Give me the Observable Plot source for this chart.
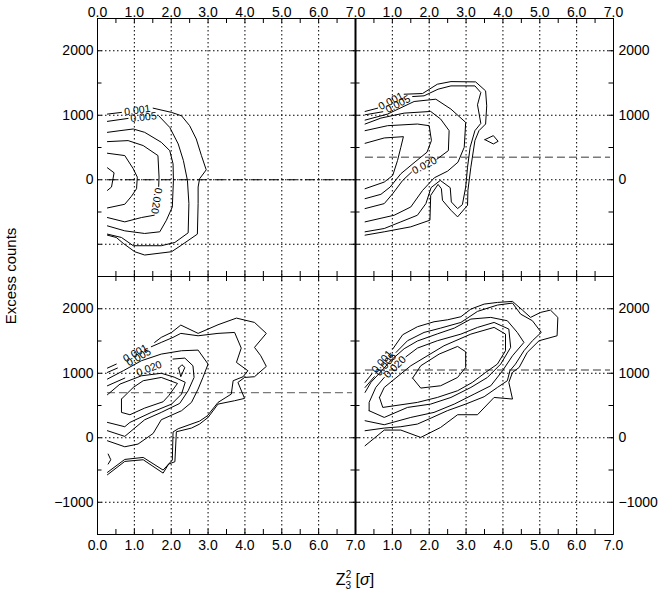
<!DOCTYPE html>
<html><head><meta charset="utf-8">
<script src="https://cdn.jsdelivr.net/npm/d3@7"></script>
<script src="https://cdn.jsdelivr.net/npm/@observablehq/plot@0.6"></script>
<style>body{margin:0;background:#fff;} #chart{width:663px;height:597px;}</style>
</head><body><div id="chart"></div>
<script>
// ---- axis values ----
const xGrid = [1, 2, 3, 4, 5, 6];
const yGrid = [-1000, 0, 1000, 2000];
const xTickVals = [0.5, 1, 1.5, 2, 2.5, 3, 3.5, 4, 4.5, 5, 5.5, 6, 6.5];
const yTickVals = [-1000, -500, 0, 500, 1000, 1500, 2000];
const xLabelsLeft = [0, 1, 2, 3, 4, 5, 6, 7];
const xLabelsRight = [1, 2, 3, 4, 5, 6, 7];
const yLabelsTop = [0, 1000, 2000];
const yLabelsBottom = [-1000, 0, 1000, 2000];

// ---- horizontal reference lines (panel, level) ----
const refLevels = {TL: 0, TR: 350, BL: 700, BR: 1050};
const refSpan = [0.27, 6.92];

// ---- contour polylines, [Z3^2 sigma, excess counts]; null = label gap ----
const tlContours = [
  [[0.27,1018],[0.65,1044],null,[1.51,1110],[2.01,1044],[2.28,992],[2.50,838],[2.68,632],[2.82,375],[2.95,154],[2.77,15],[2.73,-113],[2.73,-370],[2.71,-843],[2.28,-1013],[2.01,-1116],[1.28,-1167],[1.01,-1116],[0.70,-987],[0.51,-895],[0.27,-859]],
  [[0.27,905],[0.83,951],null,[1.66,992],[1.96,812],[2.19,555],[2.33,298],[2.44,-10],[2.48,-370],[2.46,-823],[2.10,-972],[1.73,-1023],[0.97,-1023],[0.65,-895],[0.27,-843]],
  [[0.27,735],[0.61,761],[0.97,787],[1.28,735],[1.73,581],[1.96,452],[2.05,247],[2.06,-10],[2.03,-422],[1.87,-627],[1.69,-807],[1.28,-833],[0.74,-792],[0.27,-715]],
  [[0.27,591],[0.83,607],[1.24,530],[1.64,375],[1.67,41],[1.66,-103],null,[1.54,-550],[1.19,-586],[0.74,-653],[0.27,-586]],
  [[0.27,411],[0.74,375],[0.97,170],[1.08,41],[1.06,-139],[0.92,-257],[0.74,-380],[0.27,-437]],
  [[0.27,185],[0.45,108],[0.38,-113],[0.27,-165]]
];
const trContours = [
  [[0.26,1059],[0.60,1110],null,[1.32,1326],[1.82,1337],[2.22,1481],[2.59,1522],[3.26,1517],[3.53,1378],[3.56,1146],[3.53,864],[3.35,761],[3.24,607],[3.13,195],[3.05,-164],[3.04,-396],[2.77,-576],[2.59,-473],[2.36,-319],[2.33,-139],[2.24,-72],[2.04,-242],[2.02,-627],[1.50,-730],[0.78,-807],[0.26,-859]],
  [[0.26,1007],[0.74,1054],null,[1.55,1290],[1.86,1301],[2.24,1404],[2.59,1455],[3.24,1455],[3.40,1352],[3.31,1162],[3.40,874],[3.24,761],[3.11,504],[3.04,195],[2.99,-113],[2.90,-386],[2.77,-447],[2.60,-344],[2.57,-123],[2.30,-10],[2.05,-123],[1.91,-370],[1.68,-550],[1.23,-653],[0.78,-756],[0.26,-807]],
  [[0.26,925],[0.87,1018],[1.59,1213],[2.18,1249],[2.59,1095],[2.99,889],[2.95,504],[2.78,272],[2.50,134],[2.14,31],[1.82,-165],[1.50,-422],[1.05,-550],[0.26,-653]],
  [[0.26,864],[0.69,956],[1.32,1033],[2.04,1059],[2.31,941],[2.54,761],[2.52,452],[2.21,319],null,[1.52,118],[1.28,-10],[1.01,-216],[0.78,-370],[0.26,-447]],
  [[0.26,761],[0.87,838],[1.68,864],[2.00,838],[2.06,607],[1.94,427],[1.64,288],[1.23,93],[0.94,-113],[0.69,-226],[0.26,-293]],
  [[0.26,565],[0.78,648],[1.30,668],[1.23,504],[1.14,298],[1.01,67],[0.78,-36],[0.26,-139]],
  [[3.51,622],[3.74,684],[3.87,596],[3.74,555],[3.51,622]]
];
const blContours = [
  [[0.27,1080],[0.51,1142],null,[1.55,1478],[1.73,1556],[2.01,1633],[2.26,1747],[2.73,1618],[3.00,1685],[3.27,1752],[3.77,1855],[4.26,1788],[4.58,1618],[4.26,1401],[4.43,1271],[4.58,1106],[4.26,946],[3.99,935],[3.81,858],[3.99,610],[3.72,574],[3.27,522],[3.00,315],[2.77,212],[2.55,150],[2.14,93],[2.10,-372],[1.93,-408],[1.78,-548],[1.24,-341],[0.74,-367],[0.27,-574]],
  [[0.27,1013],[0.54,1080],null,[1.46,1411],[1.73,1478],[2.05,1556],[2.26,1618],[2.73,1581],[3.27,1618],[3.72,1633],[3.90,1390],[3.77,1168],[4.08,1039],[3.95,946],[3.68,884],[3.63,677],[3.27,548],[2.98,340],[2.77,258],[2.19,140],[2.05,90],[2.03,-346],[1.78,-501],[1.24,-305],[0.74,-336],[0.27,-537]],
  [[0.27,910],[0.70,1039],[1.19,1194],[1.73,1297],[2.28,1349],[2.73,1359],[3.00,1142],[2.86,935],[2.73,755],[2.55,548],[2.28,419],[1.73,279],[1.51,67],[1.10,-98],[0.74,-140],[0.27,-47]],
  [[0.27,806],[0.74,925],null,[2.05,1220],[2.37,1235],[2.59,1116],[2.62,935],[2.46,729],[2.23,532],[1.73,393],[1.28,279],[0.74,21],[0.27,109]],
  [[0.27,667],[0.61,832],[1.19,960],[1.73,1000],[2.08,940],[2.38,860],[2.28,677],[2.01,522],[1.46,393],[0.88,238],[0.74,171],[0.27,238]],
  [[0.65,600],[0.97,780],[1.24,884],[1.73,935],[2.17,842],[1.93,651],[1.78,558],[1.28,460],[0.88,357],[0.65,393],[0.65,600]],
  [[2.20,1080],[2.29,1132],[2.37,1090],[2.26,946],[2.20,1080]],
  [[0.29,-253],[0.36,-341],[0.29,-408]]
];
const brContours = [
  [[0.26,858],[0.44,987],null,[1.01,1375],[1.28,1597],[1.68,1721],[2.13,1798],[2.50,1829],[2.86,1876],[3.13,1995],[3.49,2072],[3.85,2098],[4.26,2114],[4.53,1979],[4.75,1866],[5.02,1943],[5.29,1979],[5.49,1866],[5.47,1581],[4.98,1504],[4.66,1323],[4.44,1090],[4.26,1013],[4.16,858],[4.26,600],[3.76,625],[3.31,357],[2.77,357],[2.31,160],[1.77,5],[1.23,119],[0.78,119],[0.26,-124]],
  [[0.26,780],[0.51,946],null,[1.10,1323],[1.41,1504],[1.86,1633],[2.31,1700],[2.86,1788],[3.31,1959],[3.85,2057],[4.26,2088],[4.48,1917],[4.80,1814],[5.04,1633],[4.80,1504],[4.57,1349],[4.34,1142],[4.19,1039],[4.12,884],[3.85,780],[3.49,636],[2.99,522],[2.49,419],[2.05,305],[1.68,212],[1.23,171],[0.78,150],[0.26,109]],
  [[0.26,264],[0.78,202],[1.50,315],[2.13,393],[2.68,522],[3.22,677],[3.67,806],[3.99,1039],[4.26,1271],[4.57,1478],[4.39,1633],[4.12,1814],[3.67,1866],[3.13,1840],[2.68,1700],[2.22,1610],[1.68,1500],[1.32,1380],[0.96,1200],[0.65,1000],[0.42,860],[0.26,703]],
  [[0.37,419],[0.37,548],[0.55,780],[0.78,935],null,[1.37,1256],[1.68,1390],[2.22,1504],[2.86,1607],[3.31,1711],[3.76,1788],[4.16,1685],[4.21,1401],[3.94,1142],[3.58,935],[3.13,780],[2.59,625],[2.04,522],[1.41,470],[0.78,315],[0.37,419]],
  [[0.65,625],[0.78,780],[1.50,1116],[2.40,1426],[3.13,1607],[3.76,1711],[4.07,1607],[4.07,1349],[3.85,1142],[3.53,1013],[3.17,858],[2.77,729],[2.22,625],[1.68,548],[0.74,470],[0.65,625]],
  [[1.55,925],[1.77,1116],[2.27,1297],[2.77,1416],[2.99,1333],[2.99,1090],[2.77,935],[2.31,806],[1.77,770],[1.55,925]]
];

// ---- contour labels: [text, x, y, angle along contour] ----
const tlLabels = [["0.001",1.08,1077,-8],["0.005",1.25,970,-6],["0.020",1.60,-326,99]];
const trLabels = [["0.001",0.96,1218,-28],["0.005",1.15,1172,-27],["0.020",1.87,219,-27]];
const blLabels = [["0.001",1.03,1310,-29],["0.005",1.12,1250,-30],["0.020",1.40,1072,-21]];
const brLabels = [["0.001",0.72,1181,-50],["0.005",0.82,1135,-50],["0.020",1.07,1095,-45]];

// ---- build tables for Plot ----
const panels = [
  {fx: "L", fy: "T", key: "TL", contours: tlContours, labels: tlLabels},
  {fx: "R", fy: "T", key: "TR", contours: trContours, labels: trLabels},
  {fx: "L", fy: "B", key: "BL", contours: blContours, labels: blLabels},
  {fx: "R", fy: "B", key: "BR", contours: brContours, labels: brLabels}
];
const contourRows = [];
const labelRows = [];
for (const p of panels) {
  p.contours.forEach((c, i) => c.forEach(pt => contourRows.push({
    fx: p.fx, fy: p.fy, id: p.key + i, x: pt ? pt[0] : NaN, y: pt ? pt[1] : NaN
  })));
  p.labels.forEach(([t, x, y, r]) => labelRows.push({fx: p.fx, fy: p.fy, t, x, y, r}));
}
const refRows = panels.map(p => ({fx: p.fx, fy: p.fy, key: p.key, y: refLevels[p.key], x1: refSpan[0], x2: refSpan[1]}));
const fmtY = v => v < 0 ? "\u2212" + Math.abs(v) : String(v);
const xLabTop = [...xLabelsLeft.map(v => ({v, fx: "L", fy: "T"})), ...xLabelsRight.map(v => ({v, fx: "R", fy: "T"}))];
const xLabBot = [...xLabelsLeft.map(v => ({v, fx: "L", fy: "B"})), ...xLabelsRight.map(v => ({v, fx: "R", fy: "B"}))];
const yLabL = [...yLabelsTop.map(v => ({v, fx: "L", fy: "T"})), ...yLabelsBottom.map(v => ({v, fx: "L", fy: "B"}))];
const yLabR = [...yLabelsTop.map(v => ({v, fx: "R", fy: "T"})), ...yLabelsBottom.map(v => ({v, fx: "R", fy: "B"}))];
const divider = [{fx: "L", fy: "T", x: 7}, {fx: "L", fy: "B", x: 7}];

const dotted = {stroke: "#000", strokeWidth: 1, strokeDasharray: "1.5,2.5"};

const svg = Plot.plot({
  width: 663, height: 597,
  marginLeft: 96, marginRight: 50, marginTop: 18, marginBottom: 63,
  style: {fontFamily: "'Liberation Sans', Arial, Helvetica, sans-serif", fontSize: "14px", background: "#fff", color: "#000"},
  x: {domain: [0, 7], axis: null},
  y: {domain: [-1500, 2500], axis: null},
  fx: {domain: ["L", "R"], padding: 0, axis: null},
  fy: {domain: ["T", "B"], padding: 0, axis: null},
  marks: [
    Plot.ruleX(xGrid, dotted),
    Plot.ruleY(yGrid, dotted),
    Plot.ruleX(xTickVals, {stroke: "#000", insetBottom: 253}),
    Plot.ruleX(xTickVals, {stroke: "#000", insetTop: 253}),
    Plot.ruleY(yTickVals, {stroke: "#000", insetRight: 253.5}),
    Plot.ruleY(yTickVals, {stroke: "#000", insetLeft: 253.5}),
    Plot.ruleY(refRows.filter(d => d.key === "TL"), {y: "y", x1: "x1", x2: "x2", fx: "fx", fy: "fy", stroke: "#000", strokeWidth: 1, strokeDasharray: "10,3,2,3"}),
    Plot.ruleY(refRows.filter(d => d.key !== "TL"), {y: "y", x1: "x1", x2: "x2", fx: "fx", fy: "fy", stroke: "#7a7a7a", strokeWidth: 1.4, strokeDasharray: "8,4"}),
    Plot.line(contourRows, {x: "x", y: "y", z: "id", fx: "fx", fy: "fy", stroke: "#000", strokeWidth: 1}),
    Plot.text(labelRows, {x: "x", y: "y", fx: "fx", fy: "fy", text: "t", rotate: "r", fontSize: 10.5, fill: "#000"}),
    Plot.frame({stroke: "#000"}),
    Plot.ruleX(divider, {x: "x", fx: "fx", fy: "fy", stroke: "#000", strokeWidth: 2}),
    Plot.text(xLabTop, {x: "v", fx: "fx", fy: "fy", text: d => d.v.toFixed(1), frameAnchor: "top", dy: -11, fontSize: 14}),
    Plot.text(xLabBot, {x: "v", fx: "fx", fy: "fy", text: d => d.v.toFixed(1), frameAnchor: "bottom", dy: 15, fontSize: 14}),
    Plot.text(yLabL, {y: "v", fx: "fx", fy: "fy", text: d => fmtY(d.v), frameAnchor: "left", textAnchor: "end", dx: -4, fontSize: 14}),
    Plot.text(yLabR, {y: "v", fx: "fx", fy: "fy", text: d => fmtY(d.v), frameAnchor: "right", textAnchor: "start", dx: 5, fontSize: 14})
  ]
});

const s = d3.select(svg);
s.append("text")
  .attr("transform", "translate(16,276) rotate(-90)")
  .attr("text-anchor", "middle").attr("font-size", 15).attr("fill", "#000")
  .text("Excess counts");
const xl = s.append("text").attr("x", 355).attr("y", 585).attr("text-anchor", "middle").attr("font-size", 16).attr("fill", "#000");
xl.append("tspan").text("Z");
xl.append("tspan").attr("font-size", 10).attr("dy", -7).text("2");
xl.append("tspan").attr("font-size", 10).attr("dx", -5.6).attr("dy", 11).text("3");
xl.append("tspan").attr("dy", -4).text(" [");
xl.append("tspan").attr("font-style", "italic").text("\u03c3");
xl.append("tspan").text("]");

document.getElementById("chart").appendChild(svg);
</script></body></html>
